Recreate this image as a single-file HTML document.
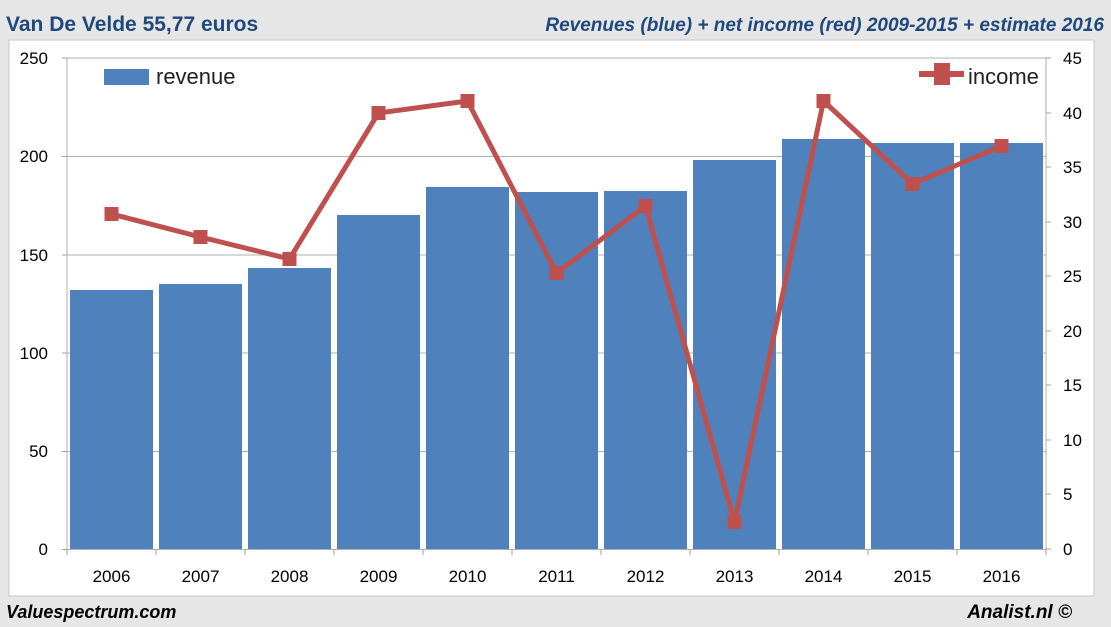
<!DOCTYPE html>
<html><head><meta charset="utf-8"><style>
html,body{margin:0;padding:0;background:#e6e6e6;}
svg{display:block;font-family:"Liberation Sans",sans-serif;}
</style></head><body>
<svg width="1111" height="627" viewBox="0 0 1111 627" xmlns="http://www.w3.org/2000/svg">
<rect x="0" y="0" width="1111" height="627" fill="#e6e6e6"/>
<rect x="9" y="40" width="1085" height="556" fill="#fff" stroke="#c8c8c8"/>
<text x="6" y="31" font-size="21" font-weight="bold" fill="#1f497d">Van De Velde 55,77 euros</text>
<text x="1104" y="31" font-size="19" font-weight="bold" font-style="italic" fill="#1f497d" text-anchor="end">Revenues (blue) + net income (red) 2009-2015 + estimate 2016</text>
<text x="6" y="618" font-size="18" font-weight="bold" font-style="italic" fill="#000">Valuespectrum.com</text>
<text x="1072" y="618" font-size="19" font-weight="bold" font-style="italic" fill="#000" text-anchor="end">Analist.nl ©</text>
<g stroke="#b0b0b0" stroke-width="1">
<line x1="67" y1="58" x2="1046" y2="58"/>
<line x1="67" y1="156.5" x2="1046" y2="156.5"/>
<line x1="67" y1="255" x2="1046" y2="255"/>
<line x1="67" y1="353" x2="1046" y2="353"/>
<line x1="67" y1="451.5" x2="1046" y2="451.5"/>
<line x1="67" y1="549.5" x2="1046" y2="549.5"/>
<line x1="67" y1="58" x2="67" y2="549"/>
<line x1="1046" y1="58" x2="1046" y2="549"/>
</g>
<g fill="#4f81bd">
<rect x="70" y="290" width="83" height="259"/>
<rect x="159" y="284" width="83" height="265"/>
<rect x="248" y="268" width="83" height="281"/>
<rect x="337" y="215" width="83" height="334"/>
<rect x="426" y="187" width="83" height="362"/>
<rect x="515" y="192" width="83" height="357"/>
<rect x="604" y="191" width="83" height="358"/>
<rect x="693" y="160" width="83" height="389"/>
<rect x="782" y="139" width="83" height="410"/>
<rect x="871" y="143" width="83" height="406"/>
<rect x="960" y="143" width="83" height="406"/>
</g>
<g stroke="#a0a0a0">
<line x1="62" y1="58" x2="67" y2="58"/><line x1="62" y1="156.5" x2="67" y2="156.5"/><line x1="62" y1="255" x2="67" y2="255"/><line x1="62" y1="353" x2="67" y2="353"/><line x1="62" y1="451.5" x2="67" y2="451.5"/><line x1="62" y1="549.5" x2="67" y2="549.5"/>
<line x1="1046" y1="113" x2="1051" y2="113"/><line x1="1046" y1="167" x2="1051" y2="167"/><line x1="1046" y1="222" x2="1051" y2="222"/><line x1="1046" y1="276" x2="1051" y2="276"/><line x1="1046" y1="331" x2="1051" y2="331"/><line x1="1046" y1="385" x2="1051" y2="385"/><line x1="1046" y1="440" x2="1051" y2="440"/><line x1="1046" y1="494" x2="1051" y2="494"/><line x1="1046" y1="549" x2="1051" y2="549"/><line x1="1046" y1="58" x2="1051" y2="58"/>
<line x1="67" y1="549" x2="67" y2="555"/><line x1="156" y1="549" x2="156" y2="555"/><line x1="245" y1="549" x2="245" y2="555"/><line x1="334" y1="549" x2="334" y2="555"/><line x1="423" y1="549" x2="423" y2="555"/><line x1="512" y1="549" x2="512" y2="555"/><line x1="601" y1="549" x2="601" y2="555"/><line x1="690" y1="549" x2="690" y2="555"/><line x1="779" y1="549" x2="779" y2="555"/><line x1="868" y1="549" x2="868" y2="555"/><line x1="957" y1="549" x2="957" y2="555"/><line x1="1046" y1="549" x2="1046" y2="555"/>
</g>
<polyline fill="none" stroke="#c0504d" stroke-width="5" stroke-linejoin="round" points="111.5,214 200.5,237 289.5,259 378.5,113 467.5,101 556.5,273 645.5,206 734.5,522 823.5,101 912.5,184 1001.5,146"/>
<g fill="#c0504d">
<rect x="104.5" y="207" width="14" height="14"/><rect x="193.5" y="230" width="14" height="14"/><rect x="282.5" y="252" width="14" height="14"/><rect x="371.5" y="106" width="14" height="14"/><rect x="460.5" y="94" width="14" height="14"/><rect x="549.5" y="266" width="14" height="14"/><rect x="638.5" y="199" width="14" height="14"/><rect x="727.5" y="515" width="14" height="14"/><rect x="816.5" y="94" width="14" height="14"/><rect x="905.5" y="177" width="14" height="14"/><rect x="994.5" y="139" width="14" height="14"/>
</g>
<g font-size="17" fill="#000" text-anchor="end">
<text x="48" y="64">250</text><text x="48" y="162">200</text><text x="48" y="261">150</text><text x="48" y="359">100</text><text x="48" y="457">50</text><text x="48" y="555">0</text>
</g>
<g font-size="17" fill="#000" text-anchor="start">
<text x="1063" y="64">45</text><text x="1063" y="119">40</text><text x="1063" y="173">35</text><text x="1063" y="228">30</text><text x="1063" y="282">25</text><text x="1063" y="337">20</text><text x="1063" y="391">15</text><text x="1063" y="446">10</text><text x="1063" y="500">5</text><text x="1063" y="555">0</text>
</g>
<g font-size="17" fill="#000" text-anchor="middle">
<text x="111.5" y="582">2006</text><text x="200.5" y="582">2007</text><text x="289.5" y="582">2008</text><text x="378.5" y="582">2009</text><text x="467.5" y="582">2010</text><text x="556.5" y="582">2011</text><text x="645.5" y="582">2012</text><text x="734.5" y="582">2013</text><text x="823.5" y="582">2014</text><text x="912.5" y="582">2015</text><text x="1001.5" y="582">2016</text>
</g>
<rect x="104" y="69" width="45" height="16" fill="#4f81bd"/>
<text x="156" y="84" font-size="22" fill="#222">revenue</text>
<line x1="919" y1="74" x2="964" y2="74" stroke="#c0504d" stroke-width="6"/>
<rect x="934" y="63" width="16" height="22" fill="#c0504d"/>
<text x="968" y="84" font-size="22" fill="#222">income</text>
</svg>
</body></html>
